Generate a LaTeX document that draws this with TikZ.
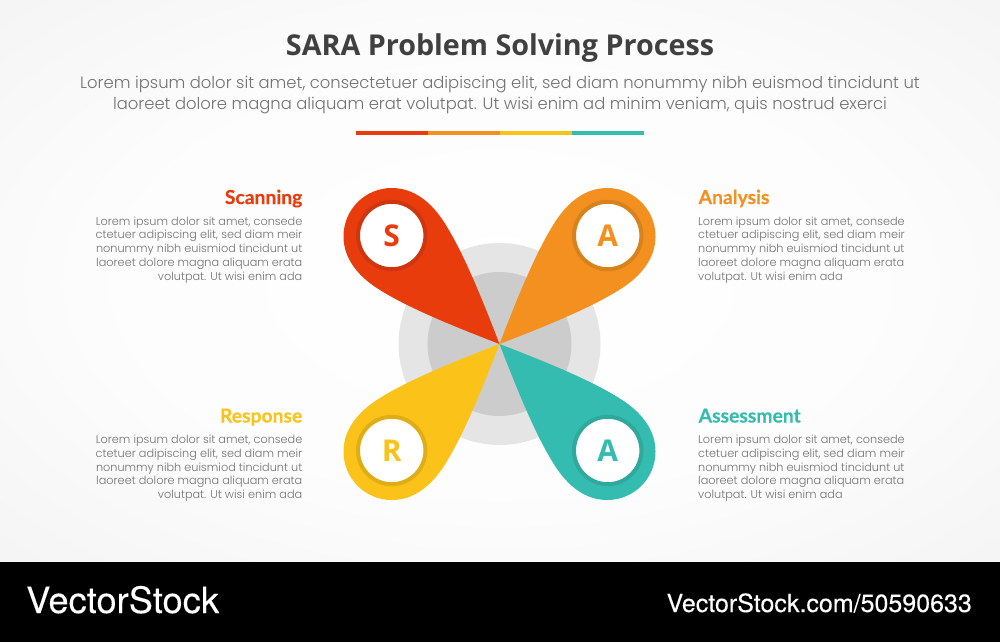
\documentclass[tikz,border=0pt]{standalone}
\usepackage{fontspec}
\setmainfont{Poppins Light}
\newfontfamily\titlefont{Open Sans}
\newfontfamily\headfont[FakeBold=0.2]{Lato}
\newfontfamily\logofont[FakeBold=0.15]{TeX Gyre Heros}
\usetikzlibrary{calc}
\definecolor{cS}{HTML}{E83C0C}
\definecolor{cA}{HTML}{F4901F}
\definecolor{cR}{HTML}{FBC319}
\definecolor{cT}{HTML}{34BCB0}
\definecolor{dS}{HTML}{CF3610}
\definecolor{dA}{HTML}{D8821C}
\definecolor{dR}{HTML}{E0AE14}
\definecolor{dT}{HTML}{2FA89E}
\definecolor{bodygrey}{HTML}{727272}
\pgfdeclareradialshading{softbg}{\pgfpointorigin}{color(0bp)=(white);color(20bp)=(white!50!black!2!white);color(35bp)=(black!4);color(50bp)=(black!7)}
\newcommand{\loremtext}{Lorem ipsum dolor sit amet, consede\\ctetuer adipiscing elit, sed diam meir\\nonummy nibh euismiod tincidunt ut\\laoreet dolore magna aliquam erata\\volutpat. Ut wisi enim ada}
\tikzset{
  px/.style={x=1pt,y=-1pt},
  petalshape/.pic={
    \fill[pic actions] (0,0) .. controls (-20,-52) and (-38,-95) .. (-56,-122.7)
      .. controls (-68,-141) and (-85,-156) .. (-107.7,-156)
      .. controls (-134.4,-156) and (-156,-134.4) .. (-156,-107.7)
      .. controls (-156,-85) and (-141,-68) .. (-122.7,-56)
      .. controls (-95,-38) and (-52,-20) .. (0,0) -- cycle;
  },
  ringdisc/.style={circle,draw=#1,line width=4pt,fill=white,minimum size=67.4pt,inner sep=0pt},
  badge/.style={font=\titlefont\bfseries\fontsize{30}{30}\selectfont},
  heading/.style={font=\headfont\bfseries\fontsize{19.3}{22}\selectfont,inner sep=0pt},
  bodyleft/.style={font=\fontsize{11.27}{13.75}\selectfont,text=bodygrey,align=right,anchor=north east,inner sep=0pt},
  bodyright/.style={font=\fontsize{11.27}{13.75}\selectfont,text=bodygrey,align=left,anchor=north west,inner sep=0pt},
  barseg/.style={line width=4pt},
}
\begin{document}
\begin{tikzpicture}[px]
\useasboundingbox (0,0) rectangle (1000,642);
\shade[shading=softbg] (0,0) rectangle (1000,562);
\fill[black] (0,562) rectangle (1000,642);

\node[font=\titlefont\bfseries\fontsize{28.7}{32}\selectfont,text=black!75] (title) at (500,48) {SARA Problem Solving Process};
\node[font=\fontsize{16.4}{20.2}\selectfont,text=bodygrey,align=center] (sub) at (500,95) {Lorem ipsum dolor sit amet, consectetuer adipiscing elit, sed diam nonummy nibh euismod tincidunt ut\\laoreet dolore magna aliquam erat volutpat. Ut wisi enim ad minim veniam, quis nostrud exerci};

\draw[barseg,cS] (356,133) -- (428,133);
\draw[barseg,cA] (428,133) -- (500,133);
\draw[barseg,cR] (500,133) -- (572,133);
\draw[barseg,cT] (572,133) -- (644,133);

\fill[black!10] (499.5,344) circle (101);
\fill[black!20] (499.5,344) circle (72);

\path[fill=cS] (499.5,344) pic {petalshape};
\path[fill=cA] (499.5,344) pic[xscale=-1] {petalshape};
\path[fill=cR] (499.5,344) pic[yscale=-1] {petalshape};
\path[fill=cT] (499.5,344) pic[xscale=-1,yscale=-1] {petalshape};

\node[ringdisc=dS,badge,text=cS] (s) at (391.7,235.5) {S};
\node[ringdisc=dA,badge,text=cA] (a1) at (607.7,235.5) {A};
\node[ringdisc=dR,badge,text=cR] (r) at (391.7,450.5) {R};
\node[ringdisc=dT,badge,text=cT] (a2) at (607.7,450.5) {A};

\node[heading,text=cS,anchor=base east] (h1) at (302.5,204) {Scanning};
\node[heading,text=cA,anchor=base west] (h2) at (698.5,204) {Analysis};
\node[heading,text=cR,anchor=base east] (h3) at (302.5,422.5) {Response};
\node[heading,text=cT,anchor=base west] (h4) at (698.5,422.5) {Assessment};

\node[bodyleft] (b1) at (302.5,216.5) {\loremtext};
\node[bodyright] (b2) at (698,216.5) {\loremtext};
\node[bodyleft] (b3) at (302.5,435) {\loremtext};
\node[bodyright] (b4) at (698,435) {\loremtext};

\node[font=\logofont\fontsize{36.3}{40}\selectfont,text=white,anchor=base west,inner sep=0pt] (logo) at (26,613) {VectorStock};
\node[font=\logofont\fontsize{25}{26}\selectfont,text=white,anchor=base east,inner sep=0pt] (url) at (972,612) {VectorStock.com/50590633};
\end{tikzpicture}
\end{document}
